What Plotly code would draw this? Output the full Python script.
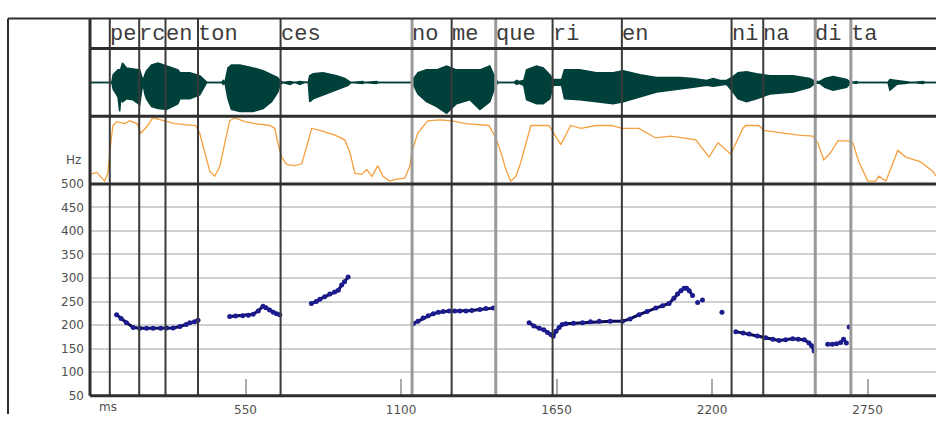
import plotly.graph_objects as go

W, H = 936, 421

# ---- segmentation tier -------------------------------------------------
boundary_ms = [70, 174, 267, 382, 674, 1139, 1279, 1435, 1636, 1881, 2269, 2381, 2565, 2691]
syllables = ["pe", "rc", "en", "ton", "ces", "no", "me", "que", "ri", "en", "ni", "na", "di", "ta"]
boundary_tier = [1, 1, 1, 1, 1, 2, 1, 2, 1, 1, 1, 1, 2, 2]

# ---- waveform envelope (amplitude, arbitrary units) -------------------
wave_ms = [0, 77, 82, 99, 105, 109, 115, 129, 152, 176, 183, 188, 194, 200, 218, 241, 271, 294, 311,
           318, 353, 388, 406, 413, 466, 471, 477, 484, 488, 500, 530, 577, 612, 642, 664, 671, 682,
           707, 724, 742, 760, 772, 777, 789, 824, 872, 901, 913, 922, 965, 968, 1014, 1018, 1135,
           1143, 1160, 1190, 1226, 1261, 1296, 1343, 1379, 1414, 1432, 1443, 1499, 1509, 1517, 1534,
           1544, 1579, 1603, 1626, 1638, 1668, 1678, 1732, 1791, 1850, 1886, 1945, 2004, 2051, 2086,
           2133, 2181, 2204, 2228, 2251, 2269, 2292, 2322, 2357, 2404, 2487, 2546, 2564, 2581, 2599,
           2628, 2676, 2691, 2711, 2716, 2822, 2829, 2853, 2888, 2907, 2947, 2953, 2992]
wave_upper = [0, 0, 8, 13, 13, 14, 20, 15, 14, 13, 6, 2, 8, 12, 18, 20, 17, 15, 13,
              10, 10, 7, 2, 0, 0, 2, 0, 8, 15, 18, 18, 15, 12, 8, 5, 2, 0,
              1, 0, 1, 0, 0, 7, 9, 10, 7, 4, 2, 0, 1, 0, 1, 0, 0,
              3, 10, 13, 13, 17, 13, 13, 13, 17, 5, 0, 0, 2, 1, 2,
              13, 17, 15, 8, 3, 3, 13, 13, 10, 10, 12, 8, 5, 5, 5,
              4, 2, 4, 2, 2, 5, 10, 11, 9, 7, 7, 4, 1, 1, 4,
              6, 3, 0, 1, 0, 0, 3, 2, 1, 0, 1, 0, 0]
wave_lower = [0, 0, -7, -15, -30, -16, -20, -17, -18, -23, -8, -2, -12, -17, -25, -27, -28, -25, -22,
              -17, -17, -13, -3, 0, 0, -2, 0, -10, -17, -28, -30, -30, -27, -20, -10, -3, 0,
              -2, 0, -2, 0, 0, -20, -17, -13, -8, -5, -3, 0, -1, 0, -1, 0, 0,
              -2, -12, -20, -25, -32, -22, -18, -28, -20, -5, 0, 0, -2, -1, -3,
              -18, -22, -22, -17, -3, -3, -17, -18, -20, -22, -20, -15, -10, -8, -7,
              -5, -3, -4, -3, -2, -8, -17, -20, -17, -12, -10, -5, -1, -1, -5,
              -8, -5, 0, -1, 0, 0, -8, -2, -1, 0, -1, 0, 0]

# ---- intensity curve (dB) ---------------------------------------------
intensity_ms = [0, 24, 52, 63, 70, 81, 95, 123, 141, 166, 180, 204, 222, 247, 268, 300, 335, 374,
                388, 406, 424, 441, 459, 477, 494, 512, 548, 583, 636, 654, 664, 678, 696, 724,
                749, 770, 784, 813, 866, 901, 919, 937, 961, 979, 997, 1018, 1036, 1060, 1085,
                1113, 1131, 1138, 1159, 1194, 1237, 1280, 1329, 1411, 1435, 1453, 1471, 1488,
                1506, 1524, 1542, 1559, 1594, 1623, 1665, 1700, 1736, 1789, 1842, 1884, 1941,
                2001, 2054, 2143, 2189, 2221, 2266, 2309, 2319, 2365, 2383, 2450, 2506, 2556,
                2574, 2595, 2620, 2645, 2680, 2698, 2719, 2751, 2779, 2790, 2815, 2857, 2885,
                2938, 2981, 2992]
intensity_db = [37.1, 38.6, 32.1, 37.9, 53.6, 73.6, 76.4, 75.0, 77.1, 75.0, 67.8, 73.6, 79.3, 77.8,
                76.4, 75.0, 74.3, 73.6, 67.8, 53.6, 39.3, 35.7, 42.9, 60.7, 77.1, 79.3, 76.4, 75.0,
                73.6, 71.4, 60.7, 50.0, 44.3, 43.6, 45.0, 60.7, 71.4, 70.0, 66.4, 62.9, 53.6, 37.9,
                37.1, 40.7, 35.7, 43.6, 35.7, 32.1, 33.6, 34.3, 42.9, 53.6, 67.8, 77.1, 77.8, 77.1,
                75.0, 73.6, 64.3, 53.6, 40.7, 32.1, 35.7, 46.4, 60.7, 73.6, 73.6, 73.6, 59.3, 73.6,
                71.4, 73.6, 73.6, 71.4, 71.4, 64.3, 65.7, 62.9, 50.0, 60.7, 52.1, 71.4, 73.6, 73.6,
                70.0, 67.8, 66.4, 65.7, 60.7, 47.9, 53.6, 62.1, 62.1, 60.7, 46.4, 32.1, 32.1, 35.7,
                32.1, 55.0, 50.0, 46.4, 39.3, 35.7]

# ---- fundamental frequency (Hz); None separates voiced stretches -------
pitch_ms = [94, 110, 129, 153, 176, 200, 223, 250, 271, 294, 318, 340, 353, 370, 382, None,
            494, 515, 540, 560, 577, 595, 612, 622, 635, 648, 660, 671, None,
            783, 800, 813, 830, 848, 865, 878, 890, 900, 913, None,
            1143, 1160, 1178, 1196, 1214, 1232, 1249, 1270, 1290, 1308, 1330, 1350, 1379, 1400, 1426, None,
            1553, 1570, 1589, 1605, 1618, 1630, 1638, 1648, 1659, 1670, 1683, 1710, 1742, 1770, 1801,
            1840, 1883, 1910, 1942, 1970, 2001, 2025, 2048, 2065, 2078, 2090, 2101, 2110, 2119, 2131, None,
            2149, None, 2166, None, 2235, None,
            2284, 2310, 2331, 2360, 2390, 2415, 2437, 2460, 2485, 2505, 2526, 2543, 2552, 2561, None,
            2609, 2625, 2640, 2655, 2665, 2675, None, 2685]
pitch_hz = [222, 214, 205, 195, 193, 193, 193, 193, 194, 194, 197, 201, 205, 207, 210, None,
            218, 219, 220, 221, 223, 230, 240, 237, 232, 227, 224, 222, None,
            246, 250, 255, 260, 266, 270, 274, 285, 292, 302, None,
            203, 208, 215, 220, 224, 227, 229, 230, 230, 230, 230, 231, 233, 235, 236, None,
            205, 198, 193, 190, 184, 180, 176, 187, 195, 201, 203, 204, 205, 207, 208,
            208, 208, 213, 222, 229, 236, 241, 246, 257, 266, 273, 278, 278, 273, 263, None,
            248, None, 253, None, 227, None,
            186, 183, 181, 177, 173, 170, 167, 169, 171, 170, 169, 162, 156, 145, None,
            159, 159, 160, 163, 170, 162, None, 196]

x_ticks = [550, 1100, 1650, 2200, 2750]
hz_ticks = [50, 100, 150, 200, 250, 300, 350, 400, 450, 500]


def px(xp):
    return xp / W


def py(yp):
    return 1 - yp / H


TOP, TEXT_BOT, WAVE_BOT, INT_BOT, AX_BOT = 12, 43, 113, 183, 402
LEFT_OUT, LEFT_AX = 8, 90
TICK_FONT = dict(family="DejaVu Sans", size=12, color="#505050")

fig = go.Figure()

# waveform as a filled envelope
fig.add_trace(go.Scatter(x=wave_ms, y=wave_lower, mode="lines", xaxis="x", yaxis="y3",
                         line=dict(color="#00403b", width=1.5), hoverinfo="skip", showlegend=False))
fig.add_trace(go.Scatter(x=wave_ms, y=wave_upper, mode="lines", xaxis="x", yaxis="y3",
                         fill="tonexty", fillcolor="#00403b",
                         line=dict(color="#00403b", width=1.5), hoverinfo="skip", showlegend=False))

# intensity
fig.add_trace(go.Scatter(x=intensity_ms, y=intensity_db, mode="lines", xaxis="x", yaxis="y2",
                         line=dict(color="#f5a040", width=1.3), hoverinfo="skip", showlegend=False))

# F0
fig.add_trace(go.Scatter(x=pitch_ms, y=pitch_hz, mode="lines+markers", xaxis="x", yaxis="y",
                         connectgaps=False,
                         line=dict(color="#0a0a55", width=3),
                         marker=dict(color="#1c1c90", size=5),
                         hoverinfo="skip", showlegend=False))

shapes = []
# segment boundaries through every tier
for t, tier in zip(boundary_ms, boundary_tier):
    shapes.append(dict(type="line", xref="x", yref="paper", x0=t, x1=t,
                       y0=py(AX_BOT), y1=py(TOP), layer="above",
                       line=dict(color="#9a9a9a" if tier == 2 else "#3a3a3a",
                                 width=3 if tier == 2 else 2)))
# frame and tier separators
frame = "#2e2e2e"
shapes.append(dict(type="line", xref="paper", yref="paper", x0=px(LEFT_OUT), x1=1,
                   y0=py(TOP), y1=py(TOP), line=dict(color=frame, width=2)))
shapes.append(dict(type="line", xref="paper", yref="paper", x0=px(LEFT_OUT), x1=px(LEFT_OUT),
                   y0=py(TOP), y1=0, line=dict(color=frame, width=2)))
shapes.append(dict(type="line", xref="paper", yref="paper", x0=px(LEFT_AX), x1=px(LEFT_AX),
                   y0=py(AX_BOT), y1=py(TOP), line=dict(color=frame, width=3)))
for yy in (TEXT_BOT, WAVE_BOT, INT_BOT, AX_BOT):
    shapes.append(dict(type="line", xref="paper", yref="paper", x0=px(LEFT_AX), x1=1,
                       y0=py(yy), y1=py(yy), line=dict(color=frame, width=3)))

annotations = []
for t, s in zip(boundary_ms, syllables):
    annotations.append(dict(x=t, y=py(28), xref="x", yref="paper", text=s, showarrow=False,
                            xanchor="left", yanchor="middle", xshift=-2,
                            font=dict(family="Liberation Mono", size=22, color="#3c3c3c")))
annotations.append(dict(x=px(73), y=py(158), xref="paper", yref="paper", text="Hz",
                        showarrow=False, xanchor="center", yanchor="middle", font=TICK_FONT))
annotations.append(dict(x=px(108), y=py(414), xref="paper", yref="paper", text="ms",
                        showarrow=False, xanchor="center", yanchor="middle", font=TICK_FONT))

fig.update_layout(
    width=W, height=H, margin=dict(l=0, r=0, t=0, b=0),
    paper_bgcolor="white", plot_bgcolor="rgba(0,0,0,0)",
    xaxis=dict(domain=[px(LEFT_AX), 1], range=[0, 2992], anchor="y",
               tickvals=x_ticks, ticks="inside", ticklen=17, tickwidth=1.5, tickcolor="#aaaaaa",
               showgrid=False, zeroline=False, showline=False, ticklabelstandoff=5,
               tickfont=TICK_FONT),
    yaxis=dict(domain=[py(AX_BOT), py(INT_BOT)], range=[50, 500], anchor="x",
               tickvals=hz_ticks, showgrid=True, gridcolor="#d0d0d0", gridwidth=2,
               zeroline=False, showline=False, ticks="", ticklabelstandoff=5,
               tickfont=TICK_FONT),
    yaxis2=dict(domain=[py(INT_BOT), py(WAVE_BOT)], range=[30, 80.5], anchor="x", visible=False),
    yaxis3=dict(domain=[py(WAVE_BOT), py(TEXT_BOT)], range=[-35, 35], anchor="x", visible=False),
    shapes=shapes, annotations=annotations,
)

fig.write_html("out.html")
